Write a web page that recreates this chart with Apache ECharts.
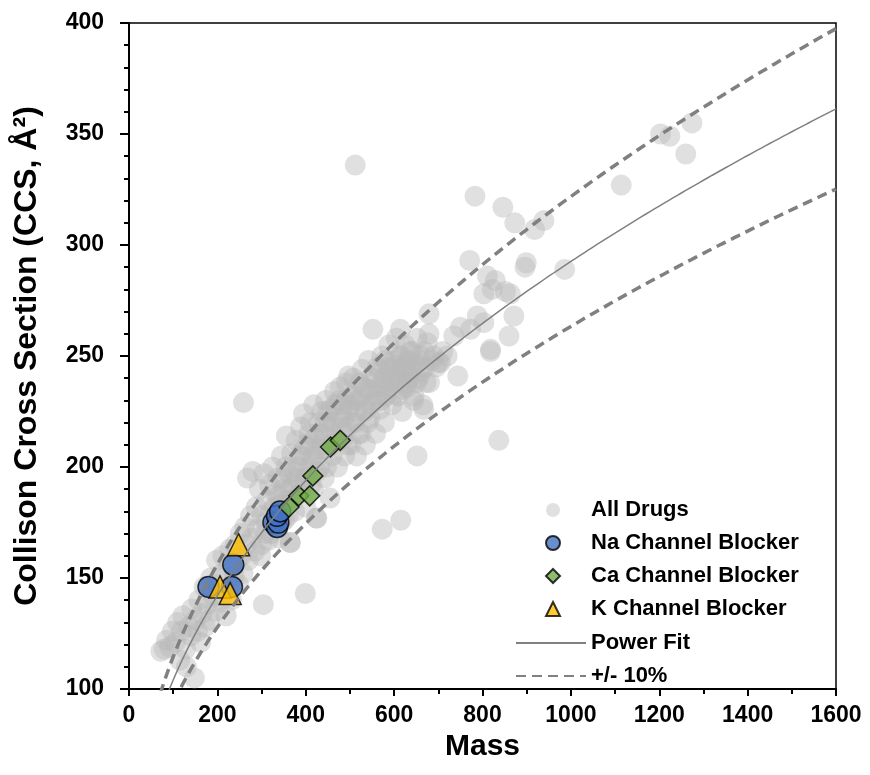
<!DOCTYPE html>
<html>
<head>
<meta charset="utf-8">
<script src="https://cdn.jsdelivr.net/npm/echarts@6/dist/echarts.min.js"></script>
<style>
  html, body { margin: 0; padding: 0; background: #fff; }
  #chart { width: 870px; height: 775px; }
</style>
</head>
<body>
<div id="chart"></div>
<script>
// Collision cross section vs. mass for a drug library, with ion-channel blockers highlighted.

// All drugs: [mass, CCS]
const allDrugs = [
  [72,117],[80,118],[85,122],[92,119],[98,126],[105,121],[110,130],[115,113],[118,126],[122,133],
  [128,118],[130,110],[135,128],[140,124],[142,136],[148,105],[150,131],[155,126],[158,140],[162,121],
  [165,134],[170,146],[172,128],[178,138],[182,131],[185,150],[190,142],[195,135],[198,158],[200,147],
  [205,139],[210,152],[212,160],[218,145],[220,133],[225,155],[228,163],[232,140],[238,151],[240,165],
  [245,158],[248,147],[252,170],[255,160],[258,152],[262,173],[265,165],[268,195],[270,158],[275,178],
  [278,168],[280,198],[285,162],[288,182],[290,172],[295,190],[298,160],[300,178],[305,197],[308,170],
  [312,185],[315,167],[318,192],[320,180],[325,200],[328,173],[332,188],[336,195],[340,168],[342,183],
  [345,205],[350,190],[352,176],[356,214],[358,185],[362,197],[365,166],[368,206],[372,192],[375,180],
  [378,212],[382,200],[385,188],[388,218],[392,205],[395,224],[398,195],[400,182],[402,210],[405,200],
  [410,220],[412,192],[415,205],[418,228],[420,213],[424,177],[426,198],[430,220],[433,208],[436,225],
  [440,215],[442,195],[445,230],[448,208],[452,218],[455,186],[458,226],[460,205],[465,234],[468,214],
  [472,200],[475,222],[478,236],[482,212],[485,228],[488,205],[492,238],[495,218],[498,226],[502,210],
  [505,232],[508,240],[512,220],[515,205],[518,230],[522,238],[525,215],[528,244],[532,225],[535,210],
  [538,235],[542,248],[545,222],[548,240],[552,262],[555,230],[558,215],[562,245],[565,236],[568,226],
  [572,250],[575,240],[578,220],[582,232],[585,245],[588,255],[592,238],[595,228],[598,248],[602,242],
  [605,258],[608,232],[612,250],[615,238],[618,225],[622,245],[625,255],[628,236],[632,248],[635,240],
  [640,252],[645,232],[648,246],[652,258],[655,240],[660,250],[665,228],[670,245],[675,256],[680,238],
  [690,250],[700,247],
  [300,165],[310,175],[322,170],[330,182],[338,187],[345,175],[348,195],[355,200],[360,178],[363,190],
  [370,185],[374,198],[380,195],[386,205],[390,190],[396,210],[403,196],[407,215],[413,203],[417,190],
  [422,208],[428,215],[432,200],[438,210],[444,220],[447,200],[450,225],[456,210],[462,220],[466,228],
  [470,212],[476,230],[480,218],[486,222],[490,230],[494,210],[500,228],[504,220],[510,230],[516,225],
  [520,215],[526,232],[530,236],[536,226],[540,220],[546,235],[550,228],[556,240],[560,232],[566,244],
  [570,230],[576,236],[580,248],[586,235],[590,244],[596,240],[600,233],[606,246],[610,240],[616,250],
  [620,235],[626,246],[630,242],[636,252],[642,244],[650,238],[656,248],[662,243],[668,252],[672,238],
  [685,248],[695,245],[710,252],[720,250],
  [512,336],[497,241],[259,229],[304,138],[399,143],[365,166],[425,177],[573,172],[615,176],[652,205],
  [837,212],[614,262],[629,238],[644,230],[667,226],[679,269],[679,260],[705,247],[744,241],[750,263],
  [735,259],[788,268],[803,265],[773,262],[771,293],[783,322],[846,317],[873,310],[918,307],[939,311],
  [899,292],[896,290],[986,289],[811,286],[829,284],[822,280],[803,278],[852,279],[863,278],[871,268],
  [860,259],[818,253],[818,252],[1114,327],[1203,350],[1224,349],[1274,355],[1260,341]
];

// Na channel blockers: [mass, CCS]
const naBlockers = [[180,146],[236,156],[233,146],[327,175],[335,173],[338,175],[335,178],[342,180]];
// Ca channel blockers: [mass, CCS]
const caBlockers = [[362,182],[384,187],[409,187],[416,196],[456,209],[478,212]];
// K channel blockers: [mass, CCS]
const kBlockers = [[248,165],[206,146],[229,143]];

// Power fit CCS = A * mass^B, drawn with a +/- 10% band
const FIT_A = 13.16;
const FIT_B = 0.449;
const BAND = 0.10;

const xTicks = { min: 0, max: 1600, step: 200 };
const yTicks = { min: 100, max: 400, step: 50 };

const fitCurve = [], upperCurve = [], lowerCurve = [];
for (let m = 60; m <= 1600; m += 10) {
  const c = FIT_A * Math.pow(m, FIT_B);
  fitCurve.push([m, c]);
  upperCurve.push([m, c * (1 + BAND)]);
  lowerCurve.push([m, c * (1 - BAND)]);
}

const FONT = "'Liberation Sans', Arial, sans-serif";
const chart = echarts.init(document.getElementById('chart'), null, { renderer: 'canvas' });

const dashStyle = { color: '#808080', width: 3.5, type: [10, 6] };
const legendText = { fontFamily: FONT, fontSize: 22, fontWeight: 'bold', color: '#000' };

chart.setOption({
  animation: false,
  backgroundColor: '#fff',
  textStyle: { fontFamily: FONT },
  grid: {
    left: 129, right: 34, top: 23, bottom: 86,
    show: true, borderColor: '#000', borderWidth: 1.5, backgroundColor: 'transparent'
  },
  legend: [
    {
      // marker entries: small symbol, text aligned with the line entries below
      orient: 'vertical',
      left: 540, top: 494,
      itemWidth: 14, itemHeight: 14, itemGap: 11,
      symbolKeepAspect: true,
      textStyle: Object.assign({ padding: [0, 0, 0, 26] }, legendText),
      data: ['All Drugs', 'Na Channel Blocker', 'Ca Channel Blocker', 'K Channel Blocker']
    },
    {
      // line entries
      orient: 'vertical',
      left: 510, top: 627,
      itemWidth: 70, itemHeight: 14, itemGap: 11,
      textStyle: legendText,
      data: [
        { name: 'Power Fit', itemStyle: { opacity: 0 } },
        { name: '+/- 10%', itemStyle: { opacity: 0 } }
      ]
    }
  ],
  xAxis: {
    type: 'value',
    min: xTicks.min, max: xTicks.max, interval: xTicks.step,
    name: 'Mass', nameLocation: 'middle', nameGap: 38,
    nameTextStyle: { fontFamily: FONT, fontSize: 30, fontWeight: 'bold', color: '#000' },
    axisLine: { onZero: false, lineStyle: { color: '#000', width: 2 } },
    axisTick: { show: true, length: 7, lineStyle: { color: '#000', width: 2 } },
    minorTick: { show: true, splitNumber: 2, length: 5, lineStyle: { color: '#000', width: 2 } },
    axisLabel: { margin: 15, fontFamily: FONT, fontSize: 23, fontWeight: 'bold', color: '#000',
      formatter: v => String(v) },
    splitLine: { show: false }, minorSplitLine: { show: false }
  },
  yAxis: {
    type: 'value',
    min: yTicks.min, max: yTicks.max, interval: yTicks.step,
    name: 'Collison Cross Section (CCS, Å²)', nameLocation: 'middle', nameGap: 86,
    nameTextStyle: { fontFamily: FONT, fontSize: 32, fontWeight: 'bold', color: '#000' },
    axisLine: { onZero: false, lineStyle: { color: '#000', width: 2 } },
    axisTick: { show: true, length: 9, lineStyle: { color: '#000', width: 2 } },
    minorTick: { show: true, splitNumber: 5, length: 5, lineStyle: { color: '#000', width: 2 } },
    axisLabel: { margin: 25, fontFamily: FONT, fontSize: 23, fontWeight: 'bold', color: '#000',
      formatter: v => String(v) },
    splitLine: { show: false }, minorSplitLine: { show: false }
  },
  series: [
    {
      name: 'All Drugs', type: 'scatter', data: allDrugs, symbol: 'circle', symbolSize: 21, z: 1,
      itemStyle: { color: 'rgba(185,185,185,0.55)' }, silent: true
    },
    {
      name: 'Na Channel Blocker', type: 'scatter', data: naBlockers, symbol: 'circle', symbolSize: 21, z: 2,
      itemStyle: { color: '#4472C4', borderColor: '#000', borderWidth: 1.5 }
    },
    {
      name: 'Ca Channel Blocker', type: 'scatter', data: caBlockers, symbol: 'diamond', symbolSize: 20, z: 3,
      itemStyle: { color: '#70AD47', borderColor: '#000', borderWidth: 1.5 }
    },
    {
      name: 'K Channel Blocker', type: 'scatter', data: kBlockers, symbol: 'triangle', symbolSize: 22, z: 4,
      itemStyle: { color: '#FFC000', borderColor: '#000', borderWidth: 1.5 }
    },
    {
      name: 'Power Fit', type: 'line', data: fitCurve, symbol: 'none', showSymbol: false, z: 5,
      clip: true, lineStyle: { color: '#808080', width: 1.5 }, itemStyle: { color: '#808080' }
    },
    {
      name: '+/- 10%', type: 'line', data: upperCurve, symbol: 'none', showSymbol: false, z: 5,
      clip: true, lineStyle: dashStyle, itemStyle: { color: '#808080' }
    },
    {
      name: '+/- 10%', type: 'line', data: lowerCurve, symbol: 'none', showSymbol: false, z: 5,
      clip: true, lineStyle: dashStyle, itemStyle: { color: '#808080' }
    }
  ]
});
</script>
</body>
</html>
